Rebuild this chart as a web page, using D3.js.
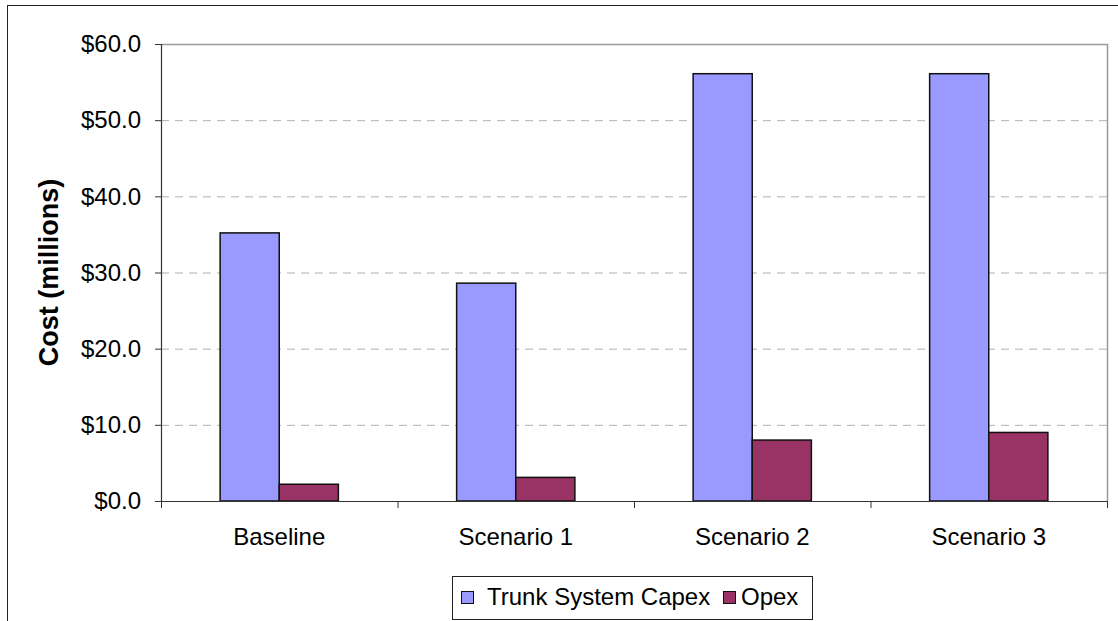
<!DOCTYPE html>
<html>
<head>
<meta charset="utf-8">
<script src="https://cdn.jsdelivr.net/npm/d3@7"></script>
<style>
  html, body { margin: 0; padding: 0; background: #fff; }
  svg { display: block; font-family: "Liberation Sans", Arial, sans-serif; }
</style>
</head>
<body>
<svg id="chart" width="1118" height="621"></svg>
<script>
// Cost comparison: trunk system capital cost vs. operating cost per scenario
const categories = ["Baseline", "Scenario 1", "Scenario 2", "Scenario 3"];
const seriesNames = ["Trunk System Capex", "Opex"];
const capex = [35.2, 28.6, 56.1, 56.1];
const opex = [2.2, 3.1, 8.0, 9.0];
const yTicks = [0, 10, 20, 30, 40, 50, 60];
const seriesColors = ["#9999FF", "#993366"];

const svg = d3.select("#chart");
const plot = { left: 161, right: 1107, top: 44, bottom: 501 };

// Outer chart frame
svg.append("rect")
  .attr("x", 7.5).attr("y", 5.5)
  .attr("width", 1200).attr("height", 700)
  .attr("fill", "none").attr("stroke", "#222").attr("stroke-width", 1);

const x0 = d3.scaleBand().domain(categories).range([plot.left, plot.right]).padding(0);
const x1 = d3.scaleBand().domain(seriesNames).range([0, x0.bandwidth()]).paddingInner(0).paddingOuter(1);
const y = d3.scaleLinear().domain([0, 60]).range([plot.bottom, plot.top]);

// Gridlines
svg.append("g").selectAll("line")
  .data(yTicks.filter(t => t > 0 && t < 60))
  .join("line")
  .attr("x1", plot.left).attr("x2", plot.right)
  .attr("y1", d => y(d) + 0.5).attr("y2", d => y(d) + 0.5)
  .attr("stroke", "#b0b0b0").attr("stroke-width", 1)
  .attr("stroke-dasharray", "8,6");

// Plot area top and right borders
svg.append("path")
  .attr("d", `M${plot.left},${plot.top + 0.5}H${plot.right + 0.5}V${plot.bottom}`)
  .attr("fill", "none").attr("stroke", "#999").attr("stroke-width", 1.5);

// Bars
const rows = categories.map((c, i) => ({ cat: c, vals: [capex[i], opex[i]] }));
const groups = svg.append("g").selectAll("g")
  .data(rows).join("g")
  .attr("transform", d => `translate(${x0(d.cat)},0)`);
groups.selectAll("rect")
  .data(d => d.vals.map((v, j) => ({ name: seriesNames[j], v, j })))
  .join("rect")
  .attr("x", d => x1(d.name))
  .attr("y", d => y(d.v))
  .attr("width", x1.bandwidth())
  .attr("height", d => y(0) - y(d.v))
  .attr("fill", d => seriesColors[d.j])
  .attr("stroke", "#111").attr("stroke-width", 1.5);

// Y axis
const yAxis = svg.append("g")
  .attr("transform", `translate(${plot.left},0)`)
  .call(d3.axisLeft(y).tickValues(yTicks).tickSize(6).tickPadding(14)
    .tickFormat(d => "$" + d3.format(".1f")(d)));
yAxis.attr("font-size", null).attr("font-family", null);
yAxis.select(".domain").attr("stroke", "#333").attr("stroke-width", 1.2);
yAxis.selectAll(".tick line").attr("stroke", "#333");
yAxis.selectAll("text").style("font-size", "24px").attr("fill", "#000");

// X axis with category separators below baseline
const xAxis = svg.append("g").attr("transform", `translate(0,${plot.bottom})`);
xAxis.append("line")
  .attr("x1", plot.left - 6).attr("x2", plot.right)
  .attr("y1", 0.5).attr("y2", 0.5)
  .attr("stroke", "#333").attr("stroke-width", 1.2);
const bounds = categories.map(c => x0(c)).concat([plot.right]);
xAxis.selectAll("line.sep").data(bounds).join("line")
  .attr("class", "sep")
  .attr("x1", d => d + 0.5).attr("x2", d => d + 0.5)
  .attr("y1", 0).attr("y2", 7)
  .attr("stroke", "#333");
xAxis.selectAll("text").data(categories).join("text")
  .attr("x", d => x0(d) + x0.bandwidth() / 2)
  .attr("y", 44)
  .attr("text-anchor", "middle")
  .style("font-size", "24px").attr("fill", "#000")
  .text(d => d);

// Y axis title
svg.append("text")
  .attr("transform", `translate(58,${(plot.top + plot.bottom) / 2}) rotate(-90)`)
  .attr("text-anchor", "middle")
  .style("font-size", "27px").attr("font-weight", "bold").attr("fill", "#000")
  .text("Cost (millions)");

// Legend
const legend = svg.append("g");
legend.append("rect")
  .attr("x", 452.5).attr("y", 576.5).attr("width", 360).attr("height", 43)
  .attr("fill", "#fff").attr("stroke", "#222").attr("stroke-width", 1);
const legendItems = [
  { name: seriesNames[0], color: seriesColors[0], sx: 461, tx: 487 },
  { name: seriesNames[1], color: seriesColors[1], sx: 723, tx: 741 }
];
legendItems.forEach(it => {
  legend.append("rect")
    .attr("x", it.sx + 0.5).attr("y", 591.5).attr("width", 12).attr("height", 12)
    .attr("fill", it.color).attr("stroke", "#111").attr("stroke-width", 1);
  legend.append("text")
    .attr("x", it.tx).attr("y", 605)
    .style("font-size", "24px").attr("fill", "#000")
    .text(it.name);
});
</script>
</body>
</html>
